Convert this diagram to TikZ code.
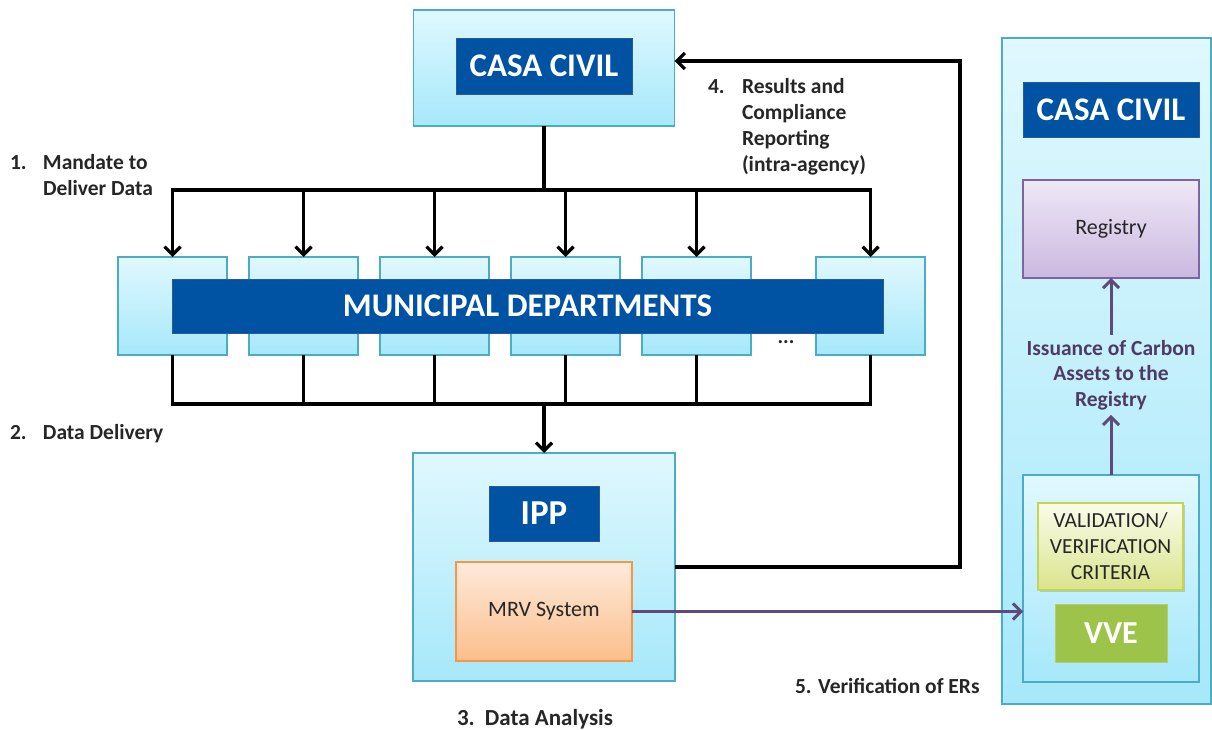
\documentclass[tikz,border=0pt]{standalone}
\usepackage{fontspec}
\setmainfont{Carlito}
\usetikzlibrary{arrows.meta,shadows}

\definecolor{boxline}{RGB}{75,172,198}
\definecolor{boxtop}{RGB}{224,248,254}
\definecolor{boxbot}{RGB}{166,232,250}
\definecolor{navy}{RGB}{0,82,163}
\definecolor{navyline}{RGB}{40,90,150}
\definecolor{mrvtop}{RGB}{253,234,218}
\definecolor{mrvbot}{RGB}{251,190,140}
\definecolor{mrvline}{RGB}{247,150,70}
\definecolor{regtop}{RGB}{238,232,246}
\definecolor{regbot}{RGB}{203,184,224}
\definecolor{regline}{RGB}{128,100,162}
\definecolor{valtop}{RGB}{250,252,235}
\definecolor{valbot}{RGB}{218,228,140}
\definecolor{valline}{RGB}{196,214,80}
\definecolor{vvegreen}{RGB}{157,195,74}
\definecolor{arrowpurple}{RGB}{96,74,123}
\definecolor{labelgray}{RGB}{38,38,38}
\definecolor{issuecol}{RGB}{80,58,100}

\begin{document}
\begin{tikzpicture}[x=1pt, y=-1pt,
                    every node/.style={inner sep=0pt, outer sep=0pt},
                    lightbox/.style={draw=boxline, line width=1.3pt,
                                     top color=boxtop, bottom color=boxbot},
                    titlebox/.style={draw=navyline, line width=0.6pt, fill=navy,
                                     text=white, font=\bfseries\fontsize{33}{38}\selectfont},
                    steplabel/.style={anchor=north west, align=left, text=labelgray,
                                      font=\bfseries\fontsize{21.5}{26}\selectfont},
                    conn/.style={line width=3.2pt},
                    arr/.style={conn, -{Straight Barb[length=8pt,width=16pt]}},
                    vconn/.style={line width=3pt, draw=arrowpurple,
                                  -{Straight Barb[length=8pt,width=16pt]}}]
    \useasboundingbox (0,0) rectangle (1212,730);

    % top: casa civil
    \node[lightbox, minimum width=261pt, minimum height=116pt] (casa1) at (544,68) {};
    \node[titlebox, minimum width=176pt, minimum height=56pt] (casa1title) at (544,66) {CASA CIVIL};

    % municipal departments
    \node[lightbox, minimum width=109pt, minimum height=98pt] (dep1) at (172.5,306) {};
    \node[lightbox, minimum width=109pt, minimum height=98pt] (dep2) at (303.5,306) {};
    \node[lightbox, minimum width=109pt, minimum height=98pt] (dep3) at (434.5,306) {};
    \node[lightbox, minimum width=109pt, minimum height=98pt] (dep4) at (565.5,306) {};
    \node[lightbox, minimum width=109pt, minimum height=98pt] (dep5) at (696.5,306) {};
    \node[lightbox, minimum width=109pt, minimum height=98pt] (dep6) at (870.5,306) {};
    \node[titlebox, minimum width=711pt, minimum height=54pt] (municipal) at (527.5,306) {MUNICIPAL DEPARTMENTS};
    \node[text=labelgray, font=\bfseries\fontsize{21}{24}\selectfont] (dots) at (786,342) {...};

    % ipp
    \node[lightbox, minimum width=262pt, minimum height=228pt] (ipp) at (544,567) {};
    \node[titlebox, minimum width=110pt, minimum height=55pt,
          font=\bfseries\fontsize{35}{38}\selectfont] (ipptitle) at (544,513.5) {IPP};
    \node[draw=mrvline, line width=1.3pt, top color=mrvtop, bottom color=mrvbot,
          minimum width=176pt, minimum height=99pt, text=labelgray,
          font=\fontsize{22}{26}\selectfont] (mrv) at (544,611.5) {MRV System};

    % right column
    \node[lightbox, minimum width=209pt, minimum height=666pt] (right) at (1106.5,371) {};
    \node[titlebox, minimum width=176pt, minimum height=55pt] (casa2title) at (1111,109.5) {CASA CIVIL};
    \node[draw=regline, line width=1.3pt, top color=regtop, bottom color=regbot,
          minimum width=176pt, minimum height=98pt, text=labelgray,
          font=\fontsize{22}{26}\selectfont] (reg) at (1111,229) {Registry};
    \node[align=center, inner sep=5pt, text=issuecol,
          font=\bfseries\fontsize{21.5}{25.5}\selectfont] (issue) at (1111,375)
          {Issuance of Carbon\\Assets to the\\Registry};
    \node[lightbox, minimum width=176pt, minimum height=207pt] (inner) at (1111,578.5) {};
    \node[draw=valline, line width=1.5pt, top color=valtop, bottom color=valbot,
          drop shadow={opacity=0.35, shadow xshift=2pt, shadow yshift=-2pt},
          minimum width=145pt, minimum height=87pt, align=center, text=labelgray,
          font=\fontsize{21.5}{26}\selectfont] (valid) at (1110.5,546.5)
          {VALIDATION/\\VERIFICATION\\CRITERIA};
    \node[fill=vvegreen, draw=vvegreen!80!white, line width=0.6pt,
          minimum width=112pt, minimum height=58pt, text=white,
          font=\bfseries\fontsize{32}{36}\selectfont] (vve) at (1111,633) {VVE};

    % step labels
    \node[steplabel] (lab1) at (10,154.5) {\makebox[33pt][l]{1.}Mandate to\\\hspace*{33pt}Deliver Data};
    \node[steplabel] (lab2) at (10,424.5) {\makebox[33pt][l]{2.}Data Delivery};
    \node[steplabel, font=\bfseries\fontsize{23}{26}\selectfont] (lab3) at (457,709) {\makebox[28pt][l]{3.}Data Analysis};
    \node[steplabel] (lab4) at (708,78.5) {\makebox[34pt][l]{4.}Results and\\\hspace*{34pt}Compliance\\\hspace*{34pt}Reporting\\\hspace*{34pt}(intra-agency)};
    \node[steplabel] (lab5) at (795,678.5) {5. Verification of ERs};

    % connectors
    \coordinate (busA) at (544,190);
    \coordinate (busB) at (544,404);
    \coordinate (ret) at (960,61);

    \draw[conn] (casa1.south) -- (busA);
    \draw[arr] (busA) -| (dep1.north);
    \draw[arr] (busA) -| (dep2.north);
    \draw[arr] (busA) -| (dep3.north);
    \draw[arr] (busA) -| (dep4.north);
    \draw[arr] (busA) -| (dep5.north);
    \draw[arr] (busA) -| (dep6.north);

    \draw[conn] (dep1.south) |- (busB);
    \draw[conn] (dep2.south) |- (busB);
    \draw[conn] (dep3.south) |- (busB);
    \draw[conn] (dep4.south) |- (busB);
    \draw[conn] (dep5.south) |- (busB);
    \draw[conn] (dep6.south) |- (busB);
    \draw[arr] (busB) -- (ipp.north);

    \draw[arr] (ipp.east) -| (ret) -- (casa1.east |- ret);
    \draw[vconn] (mrv.east) -- (inner.west |- mrv.east);
    \draw[vconn] (inner.north) -- (issue.south);
    \draw[vconn] (issue.north) -- (reg.south);
\end{tikzpicture}
\end{document}
